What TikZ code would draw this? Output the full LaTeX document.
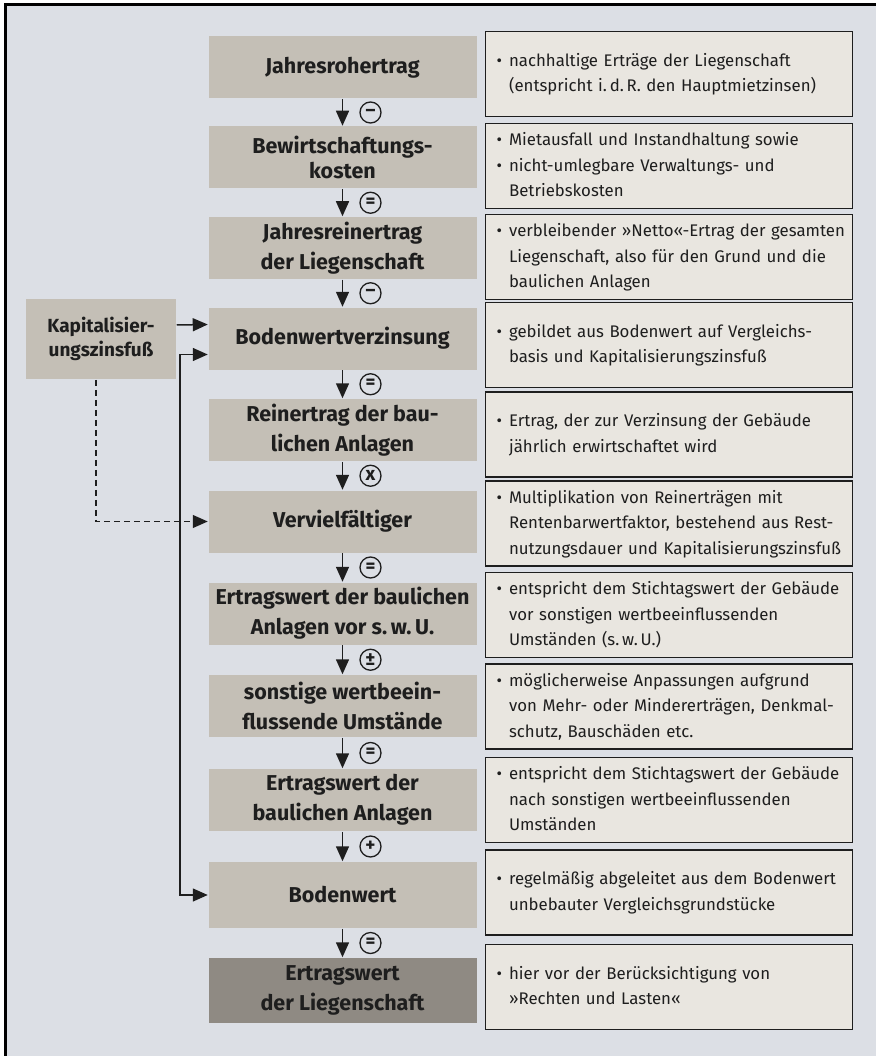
\documentclass[tikz,border=0pt]{standalone}
\usepackage{fontspec}
\setmainfont{Fira Sans}
\usetikzlibrary{arrows.meta}
\definecolor{pagebg}{HTML}{DCDFE5}
\definecolor{boxfill}{HTML}{C4BFB6}
\definecolor{lastfill}{HTML}{8F8A83}
\definecolor{notefill}{HTML}{E9E6E0}
\definecolor{ink}{HTML}{1E1E1E}
\newcommand\bul{\textbullet}
\newcommand\notes[1]{\begin{tabular}{@{}l@{\hspace{7pt}}l@{}}#1\end{tabular}}

\begin{document}
\begin{tikzpicture}[x=1pt,y=-1pt,->,>={Triangle[width=13pt,length=15pt]},line width=1.5pt,draw=ink,
    stepbox/.style={fill=boxfill,minimum width=268pt,minimum height=62pt,inner sep=0pt,align=center,text=ink,font=\fontsize{21.5}{30}\selectfont\bfseries},
    note/.style={draw=ink,fill=notefill,line width=1.3pt,minimum height=85pt,text width=345pt,inner xsep=11pt,inner ysep=0pt,anchor=west,align=left,text=ink,font=\fontsize{16.8}{25.5}\selectfont},
    sign/.style={circle,draw=ink,line width=1.3pt,minimum size=21pt,inner sep=0pt,xshift=28pt,text=ink,font=\fontsize{19}{19}\selectfont\bfseries}]
                \useasboundingbox (0,0) rectangle (876,1056);
                \fill[white] (0,0) rectangle (876,1056);
                \fill[pagebg] (5,5) rectangle (876,1056);
                \draw[-,line width=3pt,black] (5,1056) -- (5,5) -- (876,5);
                \node[stepbox](0)at(342.5, 67.5){Jahresrohertrag};
                \node[stepbox](1)at(342.5, 157.5){Bewirtschaftungs-\\[-5pt]kosten};
                \node[stepbox](2)at(342.5, 248){Jahresreinertrag\\der Liegenschaft};
                \node[stepbox](3)at(342.5, 338.5){Bodenwertverzinsung};
                \node[stepbox](4)at(342.5, 430){Reinertrag der bau-\\lichen Anlagen};
                \node[stepbox](5)at(342.5, 521.5){Vervielfältiger};
                \node[stepbox](6)at(342.5, 613.5){Ertragswert der baulichen\\Anlagen vor s.\,w.\,U.};
                \node[stepbox](7)at(342.5, 706){sonstige wertbeein-\\flussende Umstände};
                \node[stepbox](8)at(342.5, 800){Ertragswert der\\baulichen Anlagen};
                \node[stepbox,minimum height=66pt](9)at(342.5, 895){Bodenwert};
                \node[stepbox,fill=lastfill,minimum height=65pt](10)at(342.5, 990.5){Ertragswert\\der Liegenschaft};
                \node[stepbox,minimum width=150pt,minimum height=80pt,font=\fontsize{19}{24}\selectfont\bfseries](Kap)at(101, 339){Kapitalisier-\\ungszinsfuß};
                \node[note](n0)at(485, 74){\notes{\bul & nachhaltige Erträge der Liegenschaft\\ & (entspricht i.\,d.\,R. den Hauptmietzinsen)}};
                \node[note](n1)at(485, 166){\notes{\bul & Mietausfall und Instandhaltung sowie\\ \bul & nicht-umlegbare Verwaltungs- und\\ & Betriebskosten}};
                \node[note](n2)at(485, 257){\notes{\bul & verbleibender »Netto«-Ertrag der gesamten\\ & Liegenschaft, also für den Grund und die\\ & baulichen Anlagen}};
                \node[note](n3)at(485, 345){\notes{\bul & gebildet aus Bodenwert auf Vergleichs-\\ & basis und Kapitalisierungszinsfuß}};
                \node[note](n4)at(485, 434.5){\notes{\bul & Ertrag, der zur Verzinsung der Gebäude\\ & jährlich erwirtschaftet wird}};
                \node[note](n5)at(485, 523.5){\notes{\bul & Multiplikation von Reinerträgen mit\\ & Rentenbarwertfaktor, bestehend aus Rest-\\ & nutzungsdauer und Kapitalisierungszinsfuß}};
                \node[note](n6)at(485, 615){\notes{\bul & entspricht dem Stichtagswert der Gebäude\\ & vor sonstigen wertbeeinflussenden\\ & Umständen (s.\,w.\,U.)}};
                \node[note](n7)at(485, 706.5){\notes{\bul & möglicherweise Anpassungen aufgrund\\ & von Mehr- oder Mindererträgen, Denkmal-\\ & schutz, Bauschäden etc.}};
                \node[note](n8)at(485, 800){\notes{\bul & entspricht dem Stichtagswert der Gebäude\\ & nach sonstigen wertbeeinflussenden\\ & Umständen}};
                \node[note](n9)at(485, 892.5){\notes{\bul & regelmäßig abgeleitet aus dem Bodenwert\\ & unbebauter Vergleichsgrundstücke}};
                \node[note](n10)at(485, 987){\notes{\bul & hier vor der Berücksichtigung von\\ & »Rechten und Lasten«}};
                \path (0) edge node[sign]{–} (1)
                (1) edge node[sign]{=} (2)
                (2) edge node[sign]{–} (3)
                (3) edge node[sign]{=} (4)
                (4) edge node[sign]{x} (5)
                (5) edge node[sign]{=} (6)
                (6) edge node[sign]{±} (7)
                (7) edge node[sign]{=} (8)
                (8) edge node[sign]{+} (9)
                (9) edge node[sign]{=} (10);
                \draw ([yshift=14pt]Kap.east) -- ([yshift=14pt]3.west);
                \draw[<->] ([yshift=-16pt]3.west) -- ++(-28,0) |- (9.west);
                \draw[dashed,dash pattern=on 6pt off 4pt,line width=1.2pt] ([xshift=-5pt]Kap.south) |- (5.west);
            \end{tikzpicture}
\end{document}
